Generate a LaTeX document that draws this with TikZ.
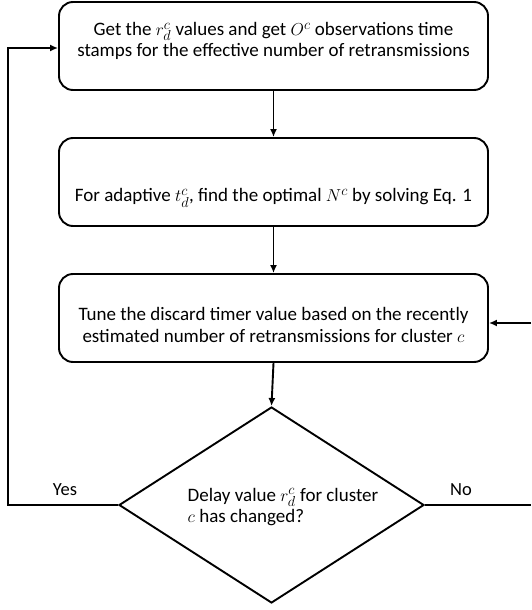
\documentclass[tikz,border=0pt]{standalone}
\usepackage{fontspec}
\setmainfont{Carlito}
\usetikzlibrary{shapes.geometric,arrows.meta}
\begin{document}
\begin{tikzpicture}[x=1pt,y=-1pt,
  line width=1.9pt,
  box/.style={draw,rounded corners=14pt,minimum width=429pt,minimum height=88pt,inner sep=0pt},
  txt/.style={align=center,font=\fontsize{19}{21.5}\selectfont,inner sep=0pt},
  dec/.style={draw,diamond,minimum width=305pt,minimum height=196pt,inner sep=0pt},
  arr/.style={-{Latex[length=8pt,width=7pt]}},
  lbl/.style={font=\fontsize{18.5}{20}\selectfont,inner sep=0pt}]
\useasboundingbox (0,0) rectangle (531,610);
\node[box] (b1) at (273.5,46) {};
\node[txt] (t1) at (273.5,41) {Get the $r_d^c$ values and get $O^c$ observations time\\stamps for the effective number of retransmissions};
\node[box] (b2) at (273.5,182) {};
\node[txt] (t2) at (273.5,198) {For adaptive $t_d^c$, find the optimal $N^c$ by solving Eq. 1};
\node[box] (b3) at (273.5,318) {};
\node[txt] (t3) at (273.5,325) {Tune the discard timer value based on the recently\\estimated number of retransmissions for cluster $c$};
\node[dec] (d) at (271.5,505) {};
\node[txt,align=left] (t4) at (283,507) {Delay value $r_d^c$ for cluster\\$c$ has changed?};
\coordinate (yl) at (8,505);
\coordinate (yt) at (8,48);
\coordinate (nr) at (531,505);
\coordinate (ni) at (531,323);
\draw[arr] (b1.south) -- (b2.north);
\draw[arr] (b2.south) -- (b3.north);
\draw[arr] (b3.south) -- (d.north);
\draw[arr] (d.west) -- (yl) -- (yt) -- (b1.west |- yt);
\draw (d.east) -- (nr);
\draw[arr] (ni) -- (b3.east |- ni);
\node[lbl] (yes) at (65,490) {Yes};
\node[lbl] (no) at (461,490) {No};
\end{tikzpicture}
\end{document}
